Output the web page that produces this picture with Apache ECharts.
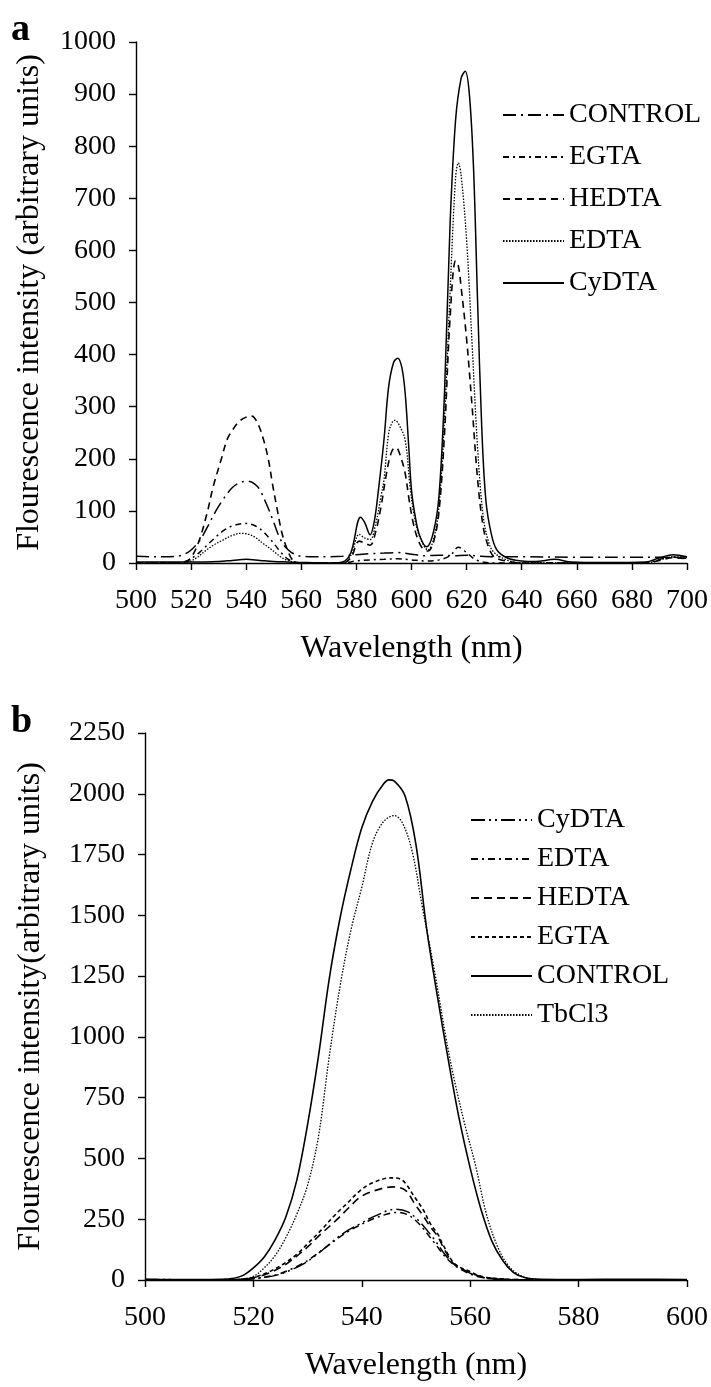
<!DOCTYPE html>
<html>
<head>
<meta charset="utf-8">
<script src="https://cdn.jsdelivr.net/npm/echarts@6/dist/echarts.min.js"></script>
<style>
  html, body { margin: 0; padding: 0; background: #fff; }
  #wrap { position: relative; width: 711px; height: 1387px; }
  #chartA { position: absolute; left: 0; top: 0; width: 711px; height: 690px; }
  #chartB { position: absolute; left: 0; top: 690px; width: 711px; height: 697px; }
</style>
</head>
<body>
<div id="wrap"><div id="chartA"></div><div id="chartB"></div></div>
<script>
// ---------- Panel a: wavelength (nm), intensity ----------
const aNames = ['CONTROL', 'EGTA', 'HEDTA', 'EDTA', 'CyDTA'];
const aControl = [[500,13],[505,12],[510,12],[515,13],[518,18],[520,25],[523,42],[526,70],[529,100],[532,125],[535,145],[538,155],[540.5,157],[543,152],[545,140],[548,105],[550,78],[552,50],[554,32],[556,22],[558,16],[560,13],[565,12],[570,12],[575,13],[580,16],[585,18],[590,19],[595,20],[600,17],[605,14],[610,15],[615,14],[620,15],[625,13],[630,12],[640,12],[660,11],[680,11],[690,11],[700,12]];
const aEgta = [[500,0],[515,0],[518,3],[520,8],[523,20],[526,35],[529,50],[532,63],[535,71],[539.5,76],[543,72],[546,61],[549,44],[551,31],[553,18],[555,8],[557,3],[560,0],[575,0],[580,4],[585,6],[590,7],[595,8],[600,6],[605,4],[610,6],[614,14],[617,30],[620,20],[623,7],[626,2],[630,0],[650,0],[685,0],[690,7],[695,11],[700,9]];
const aHedta = [[500,0],[515,0],[518,3],[520,10],[523,44],[526,100],[528,146],[531,200],[533,236],[535,255],[537.5,272],[540,280],[542,282],[544,270],[546,242],[548,200],[549.5,153],[551,110],[553,57],[555,25],[557,5],[560,0],[575,0],[578,10],[581,42],[583,38],[585,34],[587,60],[589,110],[590.5,159],[592,200],[593.5,220],[594.5,221],[596,205],[597.7,172],[599,126],[600.5,80],[602,50],[604,28],[606,23],[608,40],[610,100],[612,250],[614,470],[616,580],[617,570],[618,530],[620,430],[622,300],[624,160],[626,70],[628,30],[630,12],[635,3],[640,0],[660,0],[685,0],[690,5],[695,10],[700,8]];
const aEdta = [[500,0],[515,0],[519,2],[522,10],[525.6,25],[528,34],[531.5,44],[535,53],[538,57],[541,55],[543.6,48],[546,38],[548.4,29],[551,18],[553,10],[555,5],[557,2],[560,0],[575,0],[578,15],[581,55],[583,48],[585,45],[587,75],[589,130],[590,159],[591.7,249],[593,270],[594,274],[595.5,265],[597.7,236],[599.5,146],[601,90],[603,50],[606,25],[608,45],[610,110],[612,280],[614,520],[616,740],[617,768],[618,745],[620,620],[622,420],[624,220],[626,90],[628,40],[630,20],[635,5],[640,0],[685,0],[690,6],[695,12],[700,10]];
const aCydta = [[500,2],[520,2],[530,3],[535,5],[540,7],[545,5],[550,3],[555,2],[560,1],[570,0],[575,2],[578,20],[581.5,88],[583,78],[585,54],[586.5,80],[588,140],[590,236],[591.7,338],[593.5,385],[595,393],[596.5,375],[597.7,326],[599,223],[600,140],[601.5,85],[603,52],[605.5,31],[608,60],[610,130],[612,330],[614,650],[616,850],[618,930],[619.5,944],[621,900],[622.5,760],[624,500],[625.5,260],[627,120],[629,55],[631,25],[635,9],[640,4],[645,3],[652,7],[658,2],[670,1],[685,2],[690,10],[695,16],[700,12]];
const aXTicks = { min: 500, max: 700, step: 20 };
const aYTicks = { min: 0, max: 1000, step: 100 };

// ---------- Panel b ----------
const bNames = ['CyDTA', 'EDTA', 'HEDTA', 'EGTA', 'CONTROL', 'TbCl3'];
const bCydta = [[500,2],[515,1],[518,2],[521,8],[524.3,20],[527,42],[529.4,68],[532,110],[535.2,169],[537.5,205],[539.6,230],[542.5,264],[546.2,291],[548.5,280],[550.5,244],[553.5,163],[555.7,95],[557.9,54],[560.8,20],[563,8],[566,3],[570,1],[580,1],[600,1]];
const bEdta = [[500,1],[518,2],[521,8],[524.3,22],[527,45],[529.4,72],[532,112],[535.2,165],[537.5,200],[539.6,225],[542.5,255],[546.5,278],[548.5,268],[550.5,232],[553.5,150],[555.7,88],[557.9,48],[560.8,18],[563,7],[566,2],[570,1],[600,1]];
const bHedta = [[500,0],[515,0],[518,3],[520.6,12],[523,30],[525.7,60],[528,98],[530,136],[532.5,190],[535.2,244],[537.5,295],[539.6,339],[542,365],[545.8,383],[548,370],[549.8,312],[551.3,265],[552.7,217],[554,180],[555,136],[557,65],[560,30],[562,14],[564.4,6],[568,2],[575,0],[600,0]];
const bEgta = [[500,0],[515,0],[518,4],[520.6,14],[523,35],[525.7,68],[528,105],[530,149],[532.5,205],[535.2,271],[537.5,320],[539.6,366],[542,400],[545.4,420],[547.5,410],[549.8,339],[551.3,290],[552.7,230],[554,190],[554.9,149],[557.1,68],[560,34],[562,15],[564.4,7],[568,2],[575,0],[600,0]];
const bControl = [[500,3],[505,2],[510,2],[514,3],[516,6],[518,18],[520,50],[522,95],[524,165],[526,260],[528,410],[530,640],[532,920],[534,1240],[536,1490],[538,1690],[540,1860],[542,1970],[544,2040],[545,2057],[546,2052],[548,1990],[550,1790],[552,1440],[554,1160],[556,900],[558,660],[560,460],[562,290],[564,160],[566,80],[568,30],[570,10],[573,3],[580,2],[590,3],[600,2]];
const bTbcl3 = [[500,0],[510,0],[516,0],[518,4],[520,15],[522,50],[524,100],[526,175],[528,270],[530,390],[532,590],[534,920],[536,1210],[538,1440],[540,1615],[542,1800],[544,1885],[546,1910],[547.5,1880],[549.3,1762],[551.2,1531],[553.5,1260],[555.5,1000],[557,830],[559,640],[561,470],[563,270],[565,140],[567,60],[569,22],[571,6],[575,1],[590,1],[600,1]];
const bXTicks = { min: 500, max: 600, step: 20 };
const bYTicks = { min: 0, max: 2250, step: 250 };

const FONT = 'Liberation Serif';
const BLACK = '#000';

function axisBase(isX) {
  return {
    axisLine: { show: true, lineStyle: { color: BLACK, width: 1.4 } },
    axisTick: { show: true, inside: false, length: 7, lineStyle: { color: BLACK, width: 1.4 } },
    splitLine: { show: false },
    axisLabel: { color: BLACK, fontFamily: FONT, fontSize: 28, margin: isX ? 24 : 20,
                 formatter: function (v) { return String(v); } },
    nameTextStyle: { color: BLACK, fontFamily: FONT, fontSize: 32 }
  };
}

function mkSeries(name, data, type, width) {
  return {
    name: name, type: 'line', data: data, smooth: 0.35, symbol: 'none', showSymbol: false,
    lineStyle: { color: BLACK, width: width, type: type },
    itemStyle: { color: BLACK }, animation: false, z: 3
  };
}

function legendCfg(left, top, gap, names) {
  return {
    data: names, orient: 'vertical', left: left, top: top, itemWidth: 61, itemHeight: 14, itemGap: gap,
    itemStyle: { color: 'rgba(0,0,0,0)', borderWidth: 0, opacity: 0 },
    textStyle: { color: BLACK, fontFamily: FONT, fontSize: 28, lineHeight: 30 }, selectedMode: false
  };
}

const chartA = echarts.init(document.getElementById('chartA'), null, { renderer: 'canvas' });
chartA.setOption({
  backgroundColor: '#fff',
  animation: false,
  title: { text: 'a', left: 6, top: 6, textStyle: { fontFamily: FONT, fontWeight: 'bold', fontSize: 38, color: BLACK } },
  legend: legendCfg(497, 95, 12, aNames),
  grid: { left: 136, top: 42, width: 554, height: 521, containLabel: false },
  xAxis: Object.assign(axisBase(true), {
    type: 'value', min: aXTicks.min, max: aXTicks.max, interval: aXTicks.step,
    name: 'Wavelength (nm)', nameLocation: 'middle', nameGap: 70
  }),
  yAxis: Object.assign(axisBase(false), {
    type: 'value', min: aYTicks.min, max: aYTicks.max, interval: aYTicks.step,
    name: 'Flourescence intensity (arbitrary units)', nameLocation: 'middle', nameGap: 90
  }),
  series: [
    mkSeries('CONTROL', aControl, [13, 5, 2, 5], 1.5),
    mkSeries('EGTA', aEgta, [6, 4, 2, 4], 1.5),
    mkSeries('HEDTA', aHedta, [7, 5], 1.6),
    mkSeries('EDTA', aEdta, [1.5, 1.5], 1.3),
    mkSeries('CyDTA', aCydta, 'solid', 1.5)
  ]
});

const chartB = echarts.init(document.getElementById('chartB'), null, { renderer: 'canvas' });
chartB.setOption({
  backgroundColor: '#fff',
  animation: false,
  title: { text: 'b', left: 6, top: 8, textStyle: { fontFamily: FONT, fontWeight: 'bold', fontSize: 38, color: BLACK } },
  legend: legendCfg(465, 110, 9, bNames),
  grid: { left: 145, top: 43, width: 544, height: 554, containLabel: false },
  xAxis: Object.assign(axisBase(true), {
    type: 'value', min: bXTicks.min, max: bXTicks.max, interval: bXTicks.step,
    name: 'Wavelength (nm)', nameLocation: 'middle', nameGap: 70
  }),
  yAxis: Object.assign(axisBase(false), {
    type: 'value', min: bYTicks.min, max: bYTicks.max, interval: bYTicks.step,
    name: 'Flourescence intensity(arbitrary units)', nameLocation: 'middle', nameGap: 98
  }),
  series: [
    mkSeries('CyDTA', bCydta, [14, 4, 2, 4, 2, 4], 1.5),
    mkSeries('EDTA', bEdta, [7, 4, 2, 4], 1.5),
    mkSeries('HEDTA', bHedta, [8, 5], 1.6),
    mkSeries('EGTA', bEgta, [4, 3], 1.6),
    mkSeries('CONTROL', bControl, 'solid', 1.6),
    mkSeries('TbCl3', bTbcl3, [1.5, 1.5], 1.3)
  ]
});
</script>
</body>
</html>
